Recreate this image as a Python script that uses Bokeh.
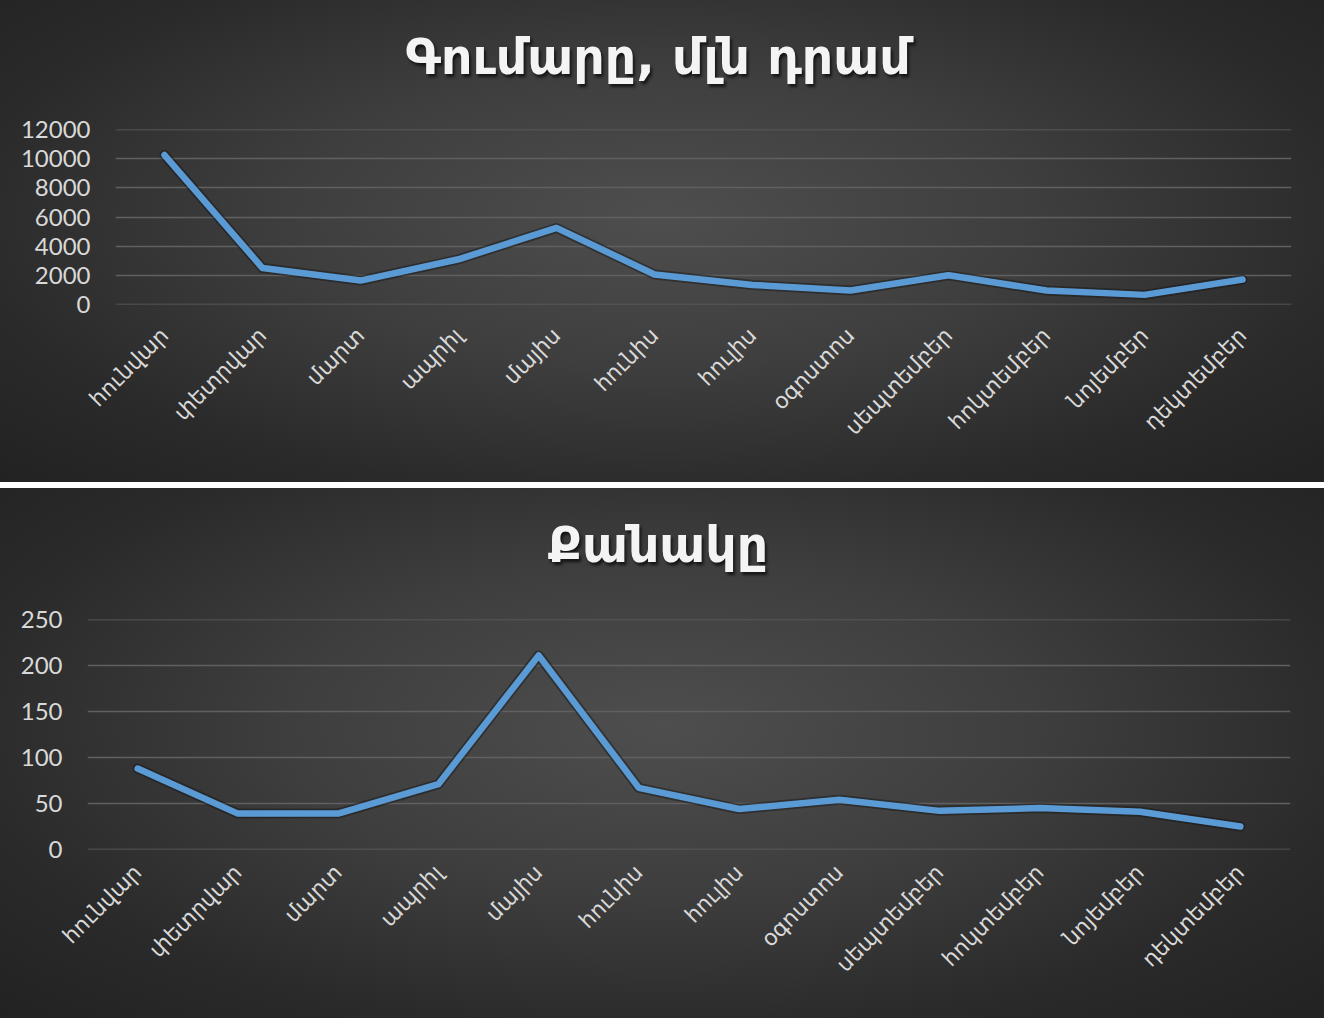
from bokeh.plotting import figure
from bokeh.models import FactorRange, Range1d, FixedTicker, Span, Div
from bokeh.layouts import column
from bokeh.embed import file_html
from bokeh.resources import INLINE

# ---- data ----
months = ["հունվար", "փետրվար", "մարտ", "ապրիլ", "մայիս", "հունիս",
          "հուլիս", "օգոստոս", "սեպտեմբեր", "հոկտեմբեր", "նոյեմբեր", "դեկտեմբեր"]
amount = [10250, 2500, 1640, 3100, 5250, 2060, 1340, 960, 2000, 960, 660, 1710]
count = [88, 39, 39, 71, 211, 67, 44, 54, 42, 45, 41, 25]
amount_ticks = [0, 2000, 4000, 6000, 8000, 10000, 12000]
count_ticks = [0, 50, 100, 150, 200, 250]
title_amount = "Գումարը, մլն դրամ"
title_count = "Քանակը"

BG = ("radial-gradient(ellipse farthest-corner at 50% 45%, "
      "#4e4e4e 0%, #3e3e3e 40%, #2a2a2a 75%, #222222 100%)")
GRID = "#606060"
W = 1324
TITLE_H = 82


def make_chart(title, values, ticks, height, left, right, top, bottom,
               xlabel_standoff, margin):
    head = Div(
        text=('<div style="padding-top:34px; padding-right:4px; width:%dpx; '
              'text-align:center; font-family:\'DejaVu Sans\'; font-size:49px; '
              'line-height:48px; font-weight:bold; color:#f4f4f4; '
              'text-shadow:2px 3px 3px rgba(0,0,0,0.65);">%s</div>') % (W - 4, title),
        width=W, height=TITLE_H, margin=(0, 0, 0, 0))

    p = figure(x_range=FactorRange(*months, range_padding=0),
               y_range=Range1d(ticks[0], ticks[-1]),
               width=W, height=height - TITLE_H,
               output_backend="svg", toolbar_location=None,
               min_border_left=left, min_border_right=right,
               min_border_top=top - TITLE_H, min_border_bottom=bottom,
               margin=(0, 0, 0, 0))
    p.background_fill_alpha = 0
    p.border_fill_alpha = 0
    p.outline_line_color = None

    p.xgrid.grid_line_color = None
    p.ygrid.grid_line_color = GRID
    p.ygrid.grid_line_width = 1.5
    for t in (ticks[0], ticks[-1]):
        p.add_layout(Span(location=t, dimension="width",
                          line_color=GRID, line_width=1.5))

    p.yaxis.ticker = FixedTicker(ticks=ticks)
    p.yaxis.axis_line_color = None
    p.yaxis.major_tick_line_color = None
    p.yaxis.minor_tick_line_color = None
    p.yaxis.major_tick_out = 0
    p.yaxis.major_tick_in = 0
    p.yaxis.major_label_standoff = 25
    p.yaxis.major_label_text_font = "Lato"
    p.yaxis.major_label_text_font_size = "24px"
    p.yaxis.major_label_text_color = "#d9d9d9"

    p.xaxis.axis_line_color = None
    p.xaxis.major_tick_line_color = None
    p.xaxis.major_tick_out = 0
    p.xaxis.major_tick_in = 0
    p.xaxis.major_label_orientation = 0.785398
    p.xaxis.major_label_standoff = xlabel_standoff
    p.xaxis.major_label_text_font = "DejaVu Sans"
    p.xaxis.major_label_text_font_size = "22px"
    p.xaxis.major_label_text_color = "#d9d9d9"

    p.line(months, values, line_color="#151515", line_alpha=0.45,
           line_width=10, line_join="round", line_cap="round")
    p.line(months, values, line_color="#5b9bd5", line_width=6.5,
           line_join="round", line_cap="round")

    box = column(head, p, spacing=0, width=W, height=height, margin=margin,
                 styles={"background-image": BG})
    return box


c1 = make_chart(title_amount, amount, amount_ticks, 482, 115, 33, 129, 178,
                27, (0, 0, 6, 0))
c2 = make_chart(title_count, count, count_ticks, 530, 87, 34, 131, 169,
                19, (0, 0, 0, 0))

open("out.html", "w").write(file_html([c1, c2], INLINE))
